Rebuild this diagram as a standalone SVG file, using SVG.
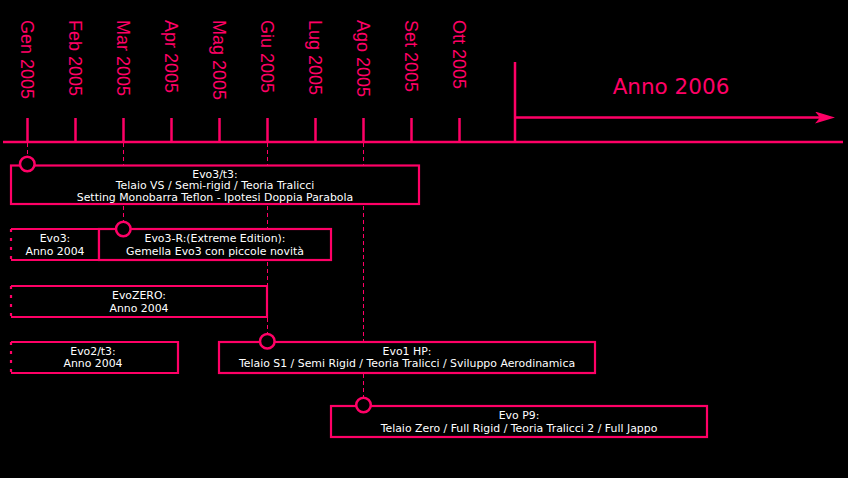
<svg xmlns="http://www.w3.org/2000/svg" width="848" height="478" viewBox="0 0 848 478">
<style>
.ax{stroke:#FF0066;stroke-width:2.5;fill:none}
.tick{stroke:#FF0066;stroke-width:2.5}
.mon{font-family:"Liberation Sans",Arial,sans-serif;font-size:18px;fill:#FF0066}
.year{font-family:"DejaVu Sans",sans-serif;font-size:21.5px;fill:#FF0066;text-anchor:middle}
.conn{stroke:#FF0066;stroke-width:1;stroke-dasharray:4,3;fill:none}
.box{fill:#000;stroke:#FF0066;stroke-width:2.2}
.dleft{stroke:#FF0066;stroke-width:2.2;stroke-dasharray:3,6}
.dot{fill:#000;stroke:#FF0066;stroke-width:2.5}
.t{font-family:"DejaVu Sans",sans-serif;font-size:10.9px;fill:#fff;text-anchor:middle}
</style>
<defs>
<marker id="ah" viewBox="0 0 20 12" refX="20" refY="6" markerWidth="20" markerHeight="12" markerUnits="userSpaceOnUse" orient="auto">
<path d="M0,0 L20,6 L0,12 L5,6 Z" fill="#FF0066"/>
</marker>
</defs>
<rect width="848" height="478" fill="#000"/>
<g id="axis">
<line class="ax" x1="3" y1="142" x2="843" y2="142"/>
<line class="tick" x1="27.5" y1="118" x2="27.5" y2="142"/>
<line class="tick" x1="75.5" y1="118" x2="75.5" y2="142"/>
<line class="tick" x1="123.5" y1="118" x2="123.5" y2="142"/>
<line class="tick" x1="171.5" y1="118" x2="171.5" y2="142"/>
<line class="tick" x1="219.5" y1="118" x2="219.5" y2="142"/>
<line class="tick" x1="267.5" y1="118" x2="267.5" y2="142"/>
<line class="tick" x1="315.5" y1="118" x2="315.5" y2="142"/>
<line class="tick" x1="363.5" y1="118" x2="363.5" y2="142"/>
<line class="tick" x1="411.5" y1="118" x2="411.5" y2="142"/>
<line class="tick" x1="459.5" y1="118" x2="459.5" y2="142"/>
<text class="mon" transform="translate(21,20) rotate(90)">Gen 2005</text>
<text class="mon" transform="translate(69,20) rotate(90)">Feb 2005</text>
<text class="mon" transform="translate(117,20) rotate(90)">Mar 2005</text>
<text class="mon" transform="translate(165,20) rotate(90)">Apr 2005</text>
<text class="mon" transform="translate(213,20) rotate(90)">Mag 2005</text>
<text class="mon" transform="translate(261,20) rotate(90)">Giu 2005</text>
<text class="mon" transform="translate(309,20) rotate(90)">Lug 2005</text>
<text class="mon" transform="translate(357,20) rotate(90)">Ago 2005</text>
<text class="mon" transform="translate(405,20) rotate(90)">Set 2005</text>
<text class="mon" transform="translate(453,20) rotate(90)">Ott 2005</text>
</g>
<g id="anno2006">
<line class="ax" x1="515" y1="62" x2="515" y2="142"/>
<line class="ax" x1="515" y1="117.5" x2="822" y2="117.5" stroke-width="3"/>
<line x1="815" y1="117.5" x2="835" y2="117.5" stroke="none" marker-end="url(#ah)"/>
<text class="year" x="671" y="94">Anno 2006</text>
</g>
<g id="connectors">
<line class="conn" x1="27.5" y1="143" x2="27.5" y2="157"/>
<line class="conn" x1="123.5" y1="143" x2="123.5" y2="222"/>
<line class="conn" x1="267.5" y1="143" x2="267.5" y2="334"/>
<line class="conn" x1="363.5" y1="143" x2="363.5" y2="398"/>
</g>
<g id="evo3t3">
<rect class="box" x="11" y="165.5" width="408" height="38.5"/>
<text class="t" x="215" y="177.5">Evo3/t3:</text>
<text class="t" x="215" y="189">Telaio VS / Semi-rigid / Teoria Tralicci</text>
<text class="t" x="215" y="200.7">Setting Monobarra Teflon - Ipotesi Doppia Parabola</text>
<circle class="dot" cx="27.3" cy="164" r="7.3"/>
</g>
<g id="evo3">
<path class="box" d="M11,229 H99 V260 H11"/>
<line class="dleft" x1="11" y1="229" x2="11" y2="260"/>
<text class="t" x="55" y="242.3">Evo3:</text>
<text class="t" x="55" y="254.5">Anno 2004</text>
</g>
<g id="evo3r">
<rect class="box" x="99" y="229" width="232" height="31"/>
<text class="t" x="215" y="242.3">Evo3-R:(Extreme Edition):</text>
<text class="t" x="215" y="254.5">Gemella Evo3 con piccole novità</text>
<circle class="dot" cx="123.3" cy="229" r="7.3"/>
</g>
<g id="evozero">
<path class="box" d="M11,286 H267 V317 H11"/>
<line class="dleft" x1="11" y1="286" x2="11" y2="317"/>
<text class="t" x="139" y="299">EvoZERO:</text>
<text class="t" x="139" y="311.5">Anno 2004</text>
</g>
<g id="evo2t3">
<path class="box" d="M11,342 H178 V373 H11"/>
<line class="dleft" x1="11" y1="342" x2="11" y2="373"/>
<text class="t" x="93" y="355">Evo2/t3:</text>
<text class="t" x="93" y="367.3">Anno 2004</text>
</g>
<g id="evo1hp">
<rect class="box" x="219" y="342" width="376" height="31"/>
<text class="t" x="407" y="355">Evo1 HP:</text>
<text class="t" x="407" y="367.3">Telaio S1 / Semi Rigid / Teoria Tralicci / Sviluppo Aerodinamica</text>
<circle class="dot" cx="267.3" cy="341.2" r="7.3"/>
</g>
<g id="evop9">
<rect class="box" x="331" y="406" width="376" height="31"/>
<text class="t" x="519" y="418.5">Evo P9:</text>
<text class="t" x="519" y="431.5">Telaio Zero / Full Rigid / Teoria Tralicci 2 / Full Jappo</text>
<circle class="dot" cx="363.5" cy="405" r="7.3"/>
</g>
</svg>
